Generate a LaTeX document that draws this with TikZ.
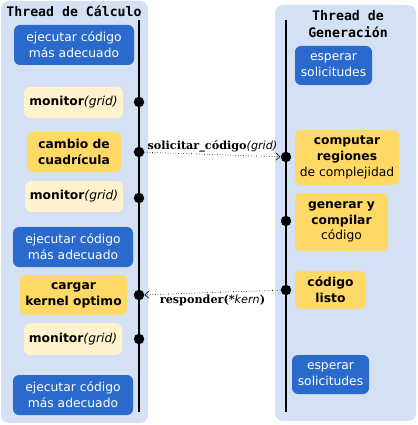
\documentclass[tikz,border=0pt]{standalone}
\usepackage{fontspec}
\setmainfont{DejaVu Sans}
\setsansfont{DejaVu Sans}
\newfontfamily\monof{DejaVu Sans Mono}
\newfontfamily\serf{DejaVu Serif}
\usetikzlibrary{arrows.meta}
\definecolor{panel}{HTML}{D4E0F3}
\definecolor{bluebox}{HTML}{2B6ACD}
\definecolor{yelbox}{HTML}{FFD966}
\definecolor{creambox}{HTML}{FFF2CC}
\begin{document}
\begin{tikzpicture}[x=1pt,y=-1pt,
  box/.style={rounded corners=6pt, align=center, inner sep=0pt, font=\fontsize{12.3}{15.8}\selectfont},
  bluebx/.style={box, fill=bluebox, text=white},
  yelbx/.style={box, fill=yelbox, text=black},
  creambx/.style={box, fill=creambox, text=black},
  pnl/.style={fill=panel, rounded corners=8pt},
  ttl/.style={font=\monof\bfseries\fontsize{13.2}{17}\selectfont, align=center},
  dot/.style={circle, fill=black, inner sep=0pt, minimum size=10.5pt},
  msg/.style={dotted, line width=0.6pt, -{Straight Barb[length=4pt,width=7pt]}},
  lbl/.style={font=\serf\bfseries\fontsize{11.2}{13}\selectfont, inner sep=1pt},
  life/.style={line width=1.6pt}
]
\useasboundingbox (0,0) rectangle (417,425);
% panels
\fill[pnl] (1,1) rectangle (148,423);
\fill[pnl] (275,5) rectangle (416,421);
% titles
\node[ttl] (tl) at (74,11) {Thread de Cálculo};
\node[ttl] (tr) at (348,24) {Thread de\\Generación};
% lifelines
\coordinate (lt) at (139,20);
\coordinate (lb) at (139,412);
\coordinate (rt) at (286,20);
\coordinate (rb) at (286,412);
\draw[life] (lt) -- (lb);
\draw[life] (rt) -- (rb);
% left nodes
\node[bluebx, minimum width=120pt, minimum height=40pt] (l1) at (74,45) {ejecutar código\\más adecuado};
\node[creambx, minimum width=99pt, minimum height=31pt] (l2) at (73.5,102.5) {\textbf{monitor}\textit{(grid)}};
\node[yelbx, minimum width=94pt, minimum height=40pt] (l3) at (74,152) {\textbf{cambio de}\\\textbf{cuadrícula}};
\node[creambx, minimum width=98pt, minimum height=31pt] (l4) at (74,196.5) {\textbf{monitor}\textit{(grid)}};
\node[bluebx, minimum width=120pt, minimum height=40pt] (l5) at (73,247) {ejecutar código\\más adecuado};
\node[yelbx, minimum width=107pt, minimum height=40pt] (l6) at (73.5,295) {\textbf{cargar}\\\textbf{kernel optimo}};
\node[creambx, minimum width=98pt, minimum height=32pt] (l7) at (73,339) {\textbf{monitor}\textit{(grid)}};
\node[bluebx, minimum width=120pt, minimum height=40pt] (l8) at (73,395) {ejecutar código\\más adecuado};
% right nodes
\node[bluebx, minimum width=77pt, minimum height=39pt] (r1) at (333.5,65.5) {esperar\\solicitudes};
\node[yelbx, minimum width=104pt, minimum height=55pt] (r2) at (347,157.5) {\textbf{computar}\\\textbf{regiones}\\de complejidad};
\node[yelbx, minimum width=93pt, minimum height=58pt] (r3) at (341.5,222) {\textbf{generar y}\\\textbf{compilar}\\código};
\node[yelbx, minimum width=71pt, minimum height=38pt] (r4) at (330.5,290) {\textbf{código}\\\textbf{listo}};
\node[bluebx, minimum width=77pt, minimum height=39pt] (r5) at (330.5,374.5) {esperar\\solicitudes};
% dots
\node[dot] (dl2) at (139,102) {};
\node[dot] (dl3) at (139,152) {};
\node[dot] (dl4) at (139,198) {};
\node[dot] (dl6) at (139,295) {};
\node[dot] (dl7) at (139,339) {};
\node[dot] (dr2) at (286,157) {};
\node[dot] (dr3) at (286,221) {};
\node[dot] (dr4) at (286,290) {};
% messages
\draw[msg] (dl3) -- node[lbl, above, yshift=1pt] {solicitar\_código{\mdseries\sffamily\itshape(grid)}} (dr2);
\draw[msg] (dr4) -- node[lbl, below, yshift=-1pt] {responder(*{\mdseries\sffamily\itshape kern})} (dl6);
\end{tikzpicture}
\end{document}
